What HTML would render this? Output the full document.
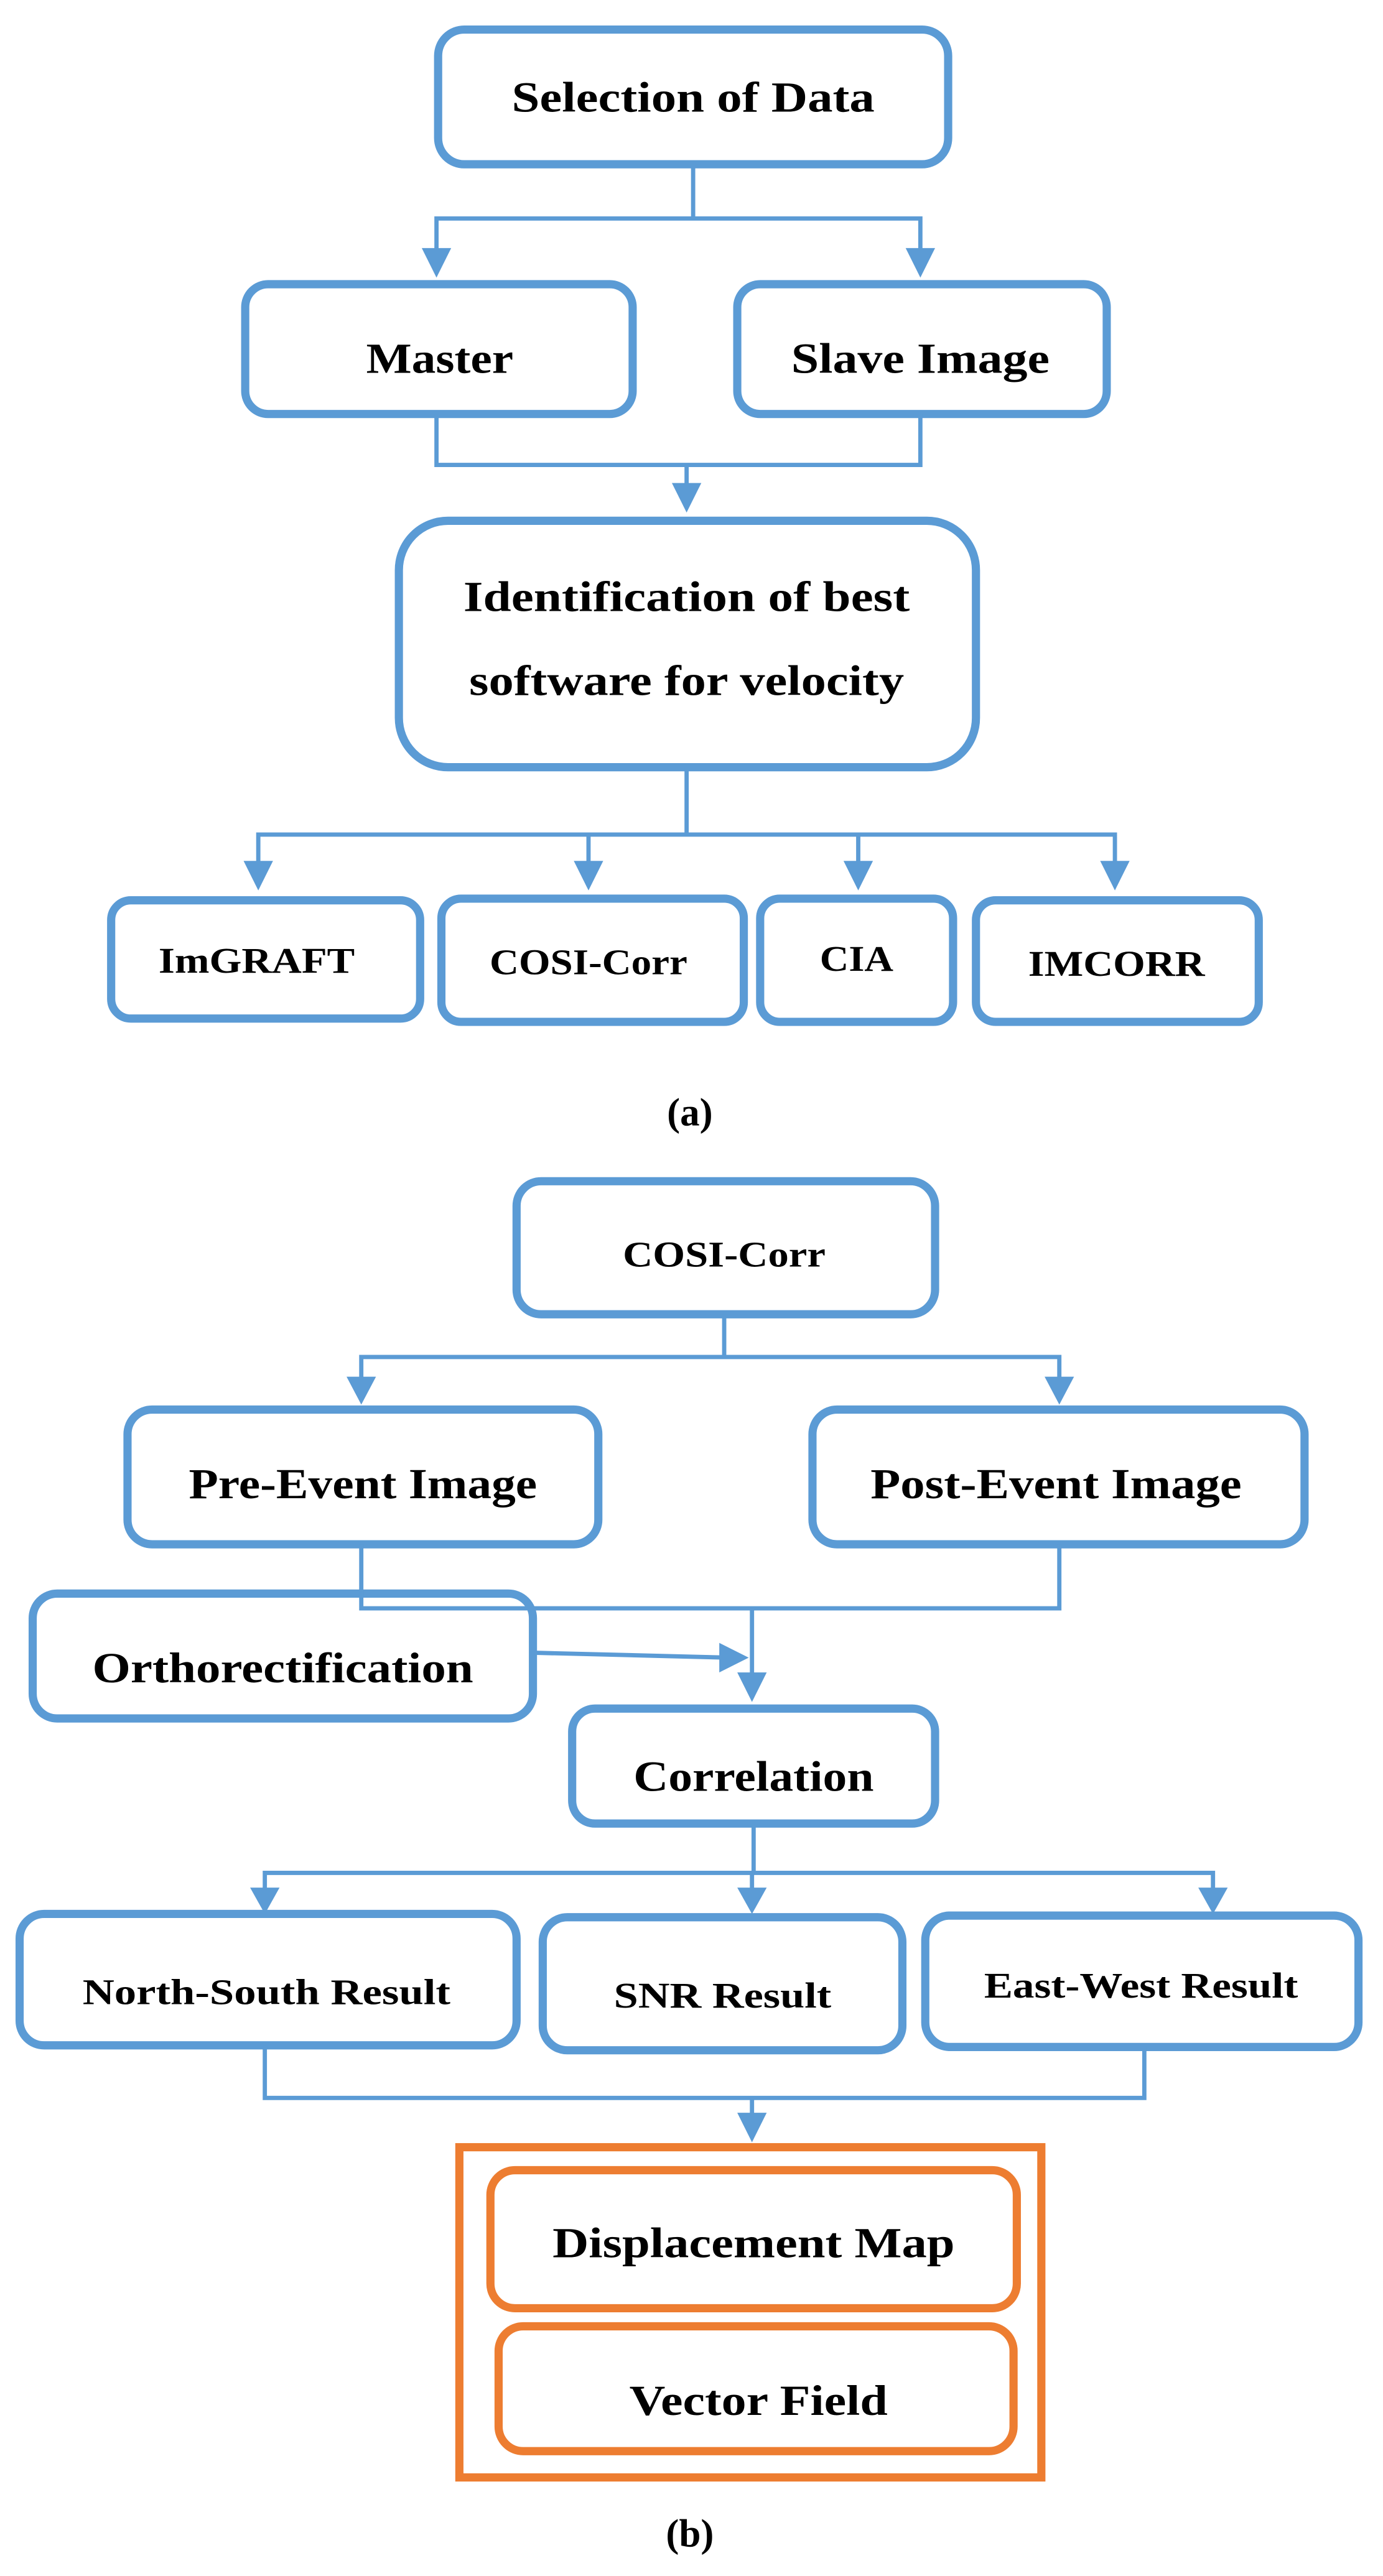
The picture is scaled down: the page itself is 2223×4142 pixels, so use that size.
<!DOCTYPE html>
<html><head><meta charset="utf-8"><style>
html,body{margin:0;padding:0;background:#fff;}
svg{display:block;}
text{font-family:"Liberation Serif",serif;font-weight:bold;fill:#000;text-anchor:middle;}
</style></head><body>
<svg width="2223" height="4142" viewBox="0 0 846 1568" preserveAspectRatio="none" xmlns="http://www.w3.org/2000/svg">
<g fill="none" stroke="#5b9bd5" stroke-width="5">
<rect x="268" y="18" width="312" height="82" rx="16"/>
<rect x="150" y="173" width="237" height="79" rx="14"/>
<rect x="451" y="173" width="226" height="79" rx="14"/>
<rect x="244" y="317" width="353" height="150" rx="30"/>
<rect x="68" y="548" width="189" height="72" rx="12"/>
<rect x="270" y="547" width="185" height="75" rx="12"/>
<rect x="465" y="547" width="118" height="75" rx="12"/>
<rect x="597" y="548" width="173" height="74" rx="12"/>
<rect x="316" y="719" width="256" height="81" rx="15"/>
<rect x="78" y="858" width="288" height="82" rx="15"/>
<rect x="497" y="858" width="301" height="82" rx="15"/>
<rect x="20" y="970" width="306" height="76" rx="15"/>
<rect x="350" y="1040" width="222" height="70" rx="14"/>
<rect x="12" y="1165" width="304" height="80" rx="15"/>
<rect x="332" y="1167" width="220" height="81" rx="15"/>
<rect x="566" y="1166" width="265" height="80" rx="15"/>
</g>
<g fill="none" stroke="#5b9bd5" stroke-width="2.6">
<polyline points="424,100 424,133"/>
<polyline points="267,160 267,133 563,133 563,160"/>
<polyline points="267,252 267,283 563,283 563,252"/>
<polyline points="420,283 420,300"/>
<polyline points="420,467 420,508"/>
<polyline points="158,530 158,508 682,508 682,530"/>
<polyline points="360,508 360,530"/>
<polyline points="525,508 525,530"/>
<polyline points="443,800 443,826"/>
<polyline points="221,845 221,826 648,826 648,845"/>
<polyline points="221,940 221,979 648,979 648,940"/>
<polyline points="460,979 460,1022"/>
<polyline points="326,1006 445,1009"/>
<polyline points="461,1110 461,1140"/>
<polyline points="162,1155 162,1140 742,1140 742,1155"/>
<polyline points="460,1140 460,1155"/>
<polyline points="162,1245 162,1277 700,1277 700,1246"/>
<polyline points="460,1277 460,1292"/>
</g>
<g fill="#5b9bd5">
<polygon points="258,151 276,151 267,169"/>
<polygon points="554,151 572,151 563,169"/>
<polygon points="411,294 429,294 420,312"/>
<polygon points="149,524 167,524 158,542"/>
<polygon points="351,524 369,524 360,542"/>
<polygon points="516,524 534,524 525,542"/>
<polygon points="673,524 691,524 682,542"/>
<polygon points="212,838 230,838 221,855"/>
<polygon points="639,838 657,838 648,855"/>
<polygon points="451,1018 469,1018 460,1036"/>
<polygon points="440,1000 440,1018 458,1009"/>
<polygon points="153,1149 171,1149 162,1165"/>
<polygon points="451,1149 469,1149 460,1165"/>
<polygon points="733,1149 751,1149 742,1165"/>
<polygon points="451,1286 469,1286 460,1304"/>
</g>
<g fill="none" stroke="#ed7d31" stroke-width="5">
<rect x="281" y="1307" width="356" height="201"/>
<rect x="300" y="1321" width="322" height="84" rx="15"/>
<rect x="305" y="1416" width="315" height="76" rx="15"/>
</g>
<g lengthAdjust="spacingAndGlyphs">
<text x="424" y="68" font-size="26" textLength="222" lengthAdjust="spacingAndGlyphs">Selection of Data</text>
<text x="269" y="227" font-size="26" textLength="90" lengthAdjust="spacingAndGlyphs">Master</text>
<text x="563" y="227" font-size="26" textLength="158" lengthAdjust="spacingAndGlyphs">Slave Image</text>
<text x="420" y="372" font-size="26" textLength="273" lengthAdjust="spacingAndGlyphs">Identification of best</text>
<text x="420" y="423" font-size="26" textLength="266" lengthAdjust="spacingAndGlyphs">software for velocity</text>
<text x="157" y="592" font-size="22" textLength="120" lengthAdjust="spacingAndGlyphs">ImGRAFT</text>
<text x="360" y="593" font-size="22" textLength="121" lengthAdjust="spacingAndGlyphs">COSI-Corr</text>
<text x="524" y="591" font-size="22" textLength="45" lengthAdjust="spacingAndGlyphs">CIA</text>
<text x="683" y="594" font-size="22" textLength="108" lengthAdjust="spacingAndGlyphs">IMCORR</text>
<text x="422" y="685" font-size="24" font-weight="normal">(<tspan font-weight="bold">a</tspan>)</text>
<text x="443" y="771" font-size="22" textLength="124" lengthAdjust="spacingAndGlyphs">COSI-Corr</text>
<text x="222" y="912" font-size="26" textLength="213" lengthAdjust="spacingAndGlyphs">Pre-Event Image</text>
<text x="646" y="912" font-size="26" textLength="227" lengthAdjust="spacingAndGlyphs">Post-Event Image</text>
<text x="173" y="1024" font-size="26" textLength="233" lengthAdjust="spacingAndGlyphs">Orthorectification</text>
<text x="461" y="1090" font-size="26" textLength="147" lengthAdjust="spacingAndGlyphs">Correlation</text>
<text x="163" y="1220" font-size="22" textLength="225" lengthAdjust="spacingAndGlyphs">North-South Result</text>
<text x="442" y="1222" font-size="22" textLength="133" lengthAdjust="spacingAndGlyphs">SNR Result</text>
<text x="698" y="1216" font-size="22" textLength="192" lengthAdjust="spacingAndGlyphs">East-West Result</text>
<text x="461" y="1374" font-size="26" textLength="246" lengthAdjust="spacingAndGlyphs">Displacement Map</text>
<text x="464" y="1470" font-size="26" textLength="158" lengthAdjust="spacingAndGlyphs">Vector Field</text>
<text x="422" y="1550" font-size="24" font-weight="normal">(<tspan font-weight="bold">b</tspan>)</text>
</g>
</svg>
</body></html>
